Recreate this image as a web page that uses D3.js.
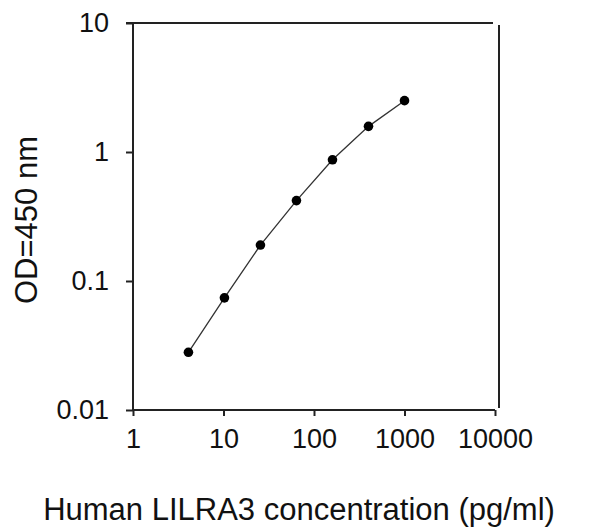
<!DOCTYPE html>
<html lang="en">
<head>
    <meta charset="utf-8" />
    <script src="https://d3js.org/d3.v7.min.js"></script>
    <style>
        body { margin: 0; background: #fff; }
        svg text { font-family: "Liberation Sans", Arial, sans-serif; fill: #111; }
    </style>
</head>
<body>
    <script>
        // standard curve data
        var concentration = [4.096, 10.24, 25.6, 64, 160, 400, 1000];
        var od = [0.028, 0.074, 0.19, 0.42, 0.87, 1.58, 2.5];

        var xTicks = [1, 10, 100, 1000, 10000];
        var xTickLabels = ["1", "10", "100", "1000", "10000"];
        var yTicks = [0.01, 0.1, 1, 10];
        var yTickLabels = ["0.01", "0.1", "1", "10"];

        var xTitle = "Human LILRA3 concentration (pg/ml)";
        var yTitle = "OD=450 nm";

        var width = 601, height = 531;
        // plot area edges ("top" is reserved on window, so use m*)
        var mLeft = 133, mRight = 495, mTop = 23, mBottom = 410;

        var svg = d3.select("body").append("svg")
            .attr("width", width)
            .attr("height", height);

        var x = d3.scaleLog().domain([1, 10000]).range([mLeft, mRight]);
        var y = d3.scaleLog().domain([0.01, 10]).range([mBottom, mTop]);

        // top and right frame lines (not joined in the original)
        svg.append("line")
            .attr("x1", mLeft - 7).attr("x2", mRight - 2)
            .attr("y1", mTop).attr("y2", mTop)
            .attr("stroke", "#222").attr("stroke-width", 2);
        svg.append("line")
            .attr("x1", mRight + 4).attr("x2", mRight + 4)
            .attr("y1", mTop + 2).attr("y2", mBottom - 2)
            .attr("stroke", "#222").attr("stroke-width", 2);

        // x axis
        var xAxis = svg.append("g")
            .attr("transform", "translate(0," + mBottom + ")")
            .call(d3.axisBottom(x)
                .tickValues(xTicks)
                .tickFormat(function (d, i) { return xTickLabels[i]; })
                .tickSize(6)
                .tickSizeOuter(0)
                .tickPadding(13));

        // y axis
        var yAxis = svg.append("g")
            .attr("transform", "translate(" + mLeft + ",0)")
            .call(d3.axisLeft(y)
                .tickValues(yTicks)
                .tickFormat(function (d, i) { return yTickLabels[i]; })
                .tickSize(7)
                .tickSizeOuter(0)
                .tickPadding(17));

        [xAxis, yAxis].forEach(function (a) {
            a.select(".domain").attr("stroke", "#222").attr("stroke-width", 2);
            a.selectAll(".tick line").attr("stroke", "#222").attr("stroke-width", 2);
            a.selectAll(".tick text")
                .attr("font-size", 27)
                .attr("fill", "#111")
                .style("font-family", "'Liberation Sans', Arial, sans-serif");
        });
        yAxis.select(".domain").attr("d", "M0," + (mTop - 1) + "V" + (mBottom + 1));
        xAxis.select(".domain").attr("d", "M" + (mLeft - 1) + ",0H" + mRight);

        // curve
        var pts = concentration.map(function (c, i) { return [c, od[i]]; });
        var line = d3.line()
            .x(function (d) { return x(d[0]); })
            .y(function (d) { return y(d[1]); });

        svg.append("path")
            .datum(pts)
            .attr("d", line)
            .attr("fill", "none")
            .attr("stroke", "#333")
            .attr("stroke-width", 1.3);

        svg.selectAll("circle")
            .data(pts)
            .join("circle")
            .attr("cx", function (d) { return x(d[0]); })
            .attr("cy", function (d) { return y(d[1]); })
            .attr("r", 4.8)
            .attr("fill", "#000");

        // titles
        svg.append("text")
            .attr("x", 299)
            .attr("y", 520)
            .attr("text-anchor", "middle")
            .attr("font-size", 31)
            .text(xTitle);

        svg.append("text")
            .attr("transform", "translate(37,220) rotate(-90)")
            .attr("text-anchor", "middle")
            .attr("font-size", 31)
            .text(yTitle);
    </script>
</body>
</html>
